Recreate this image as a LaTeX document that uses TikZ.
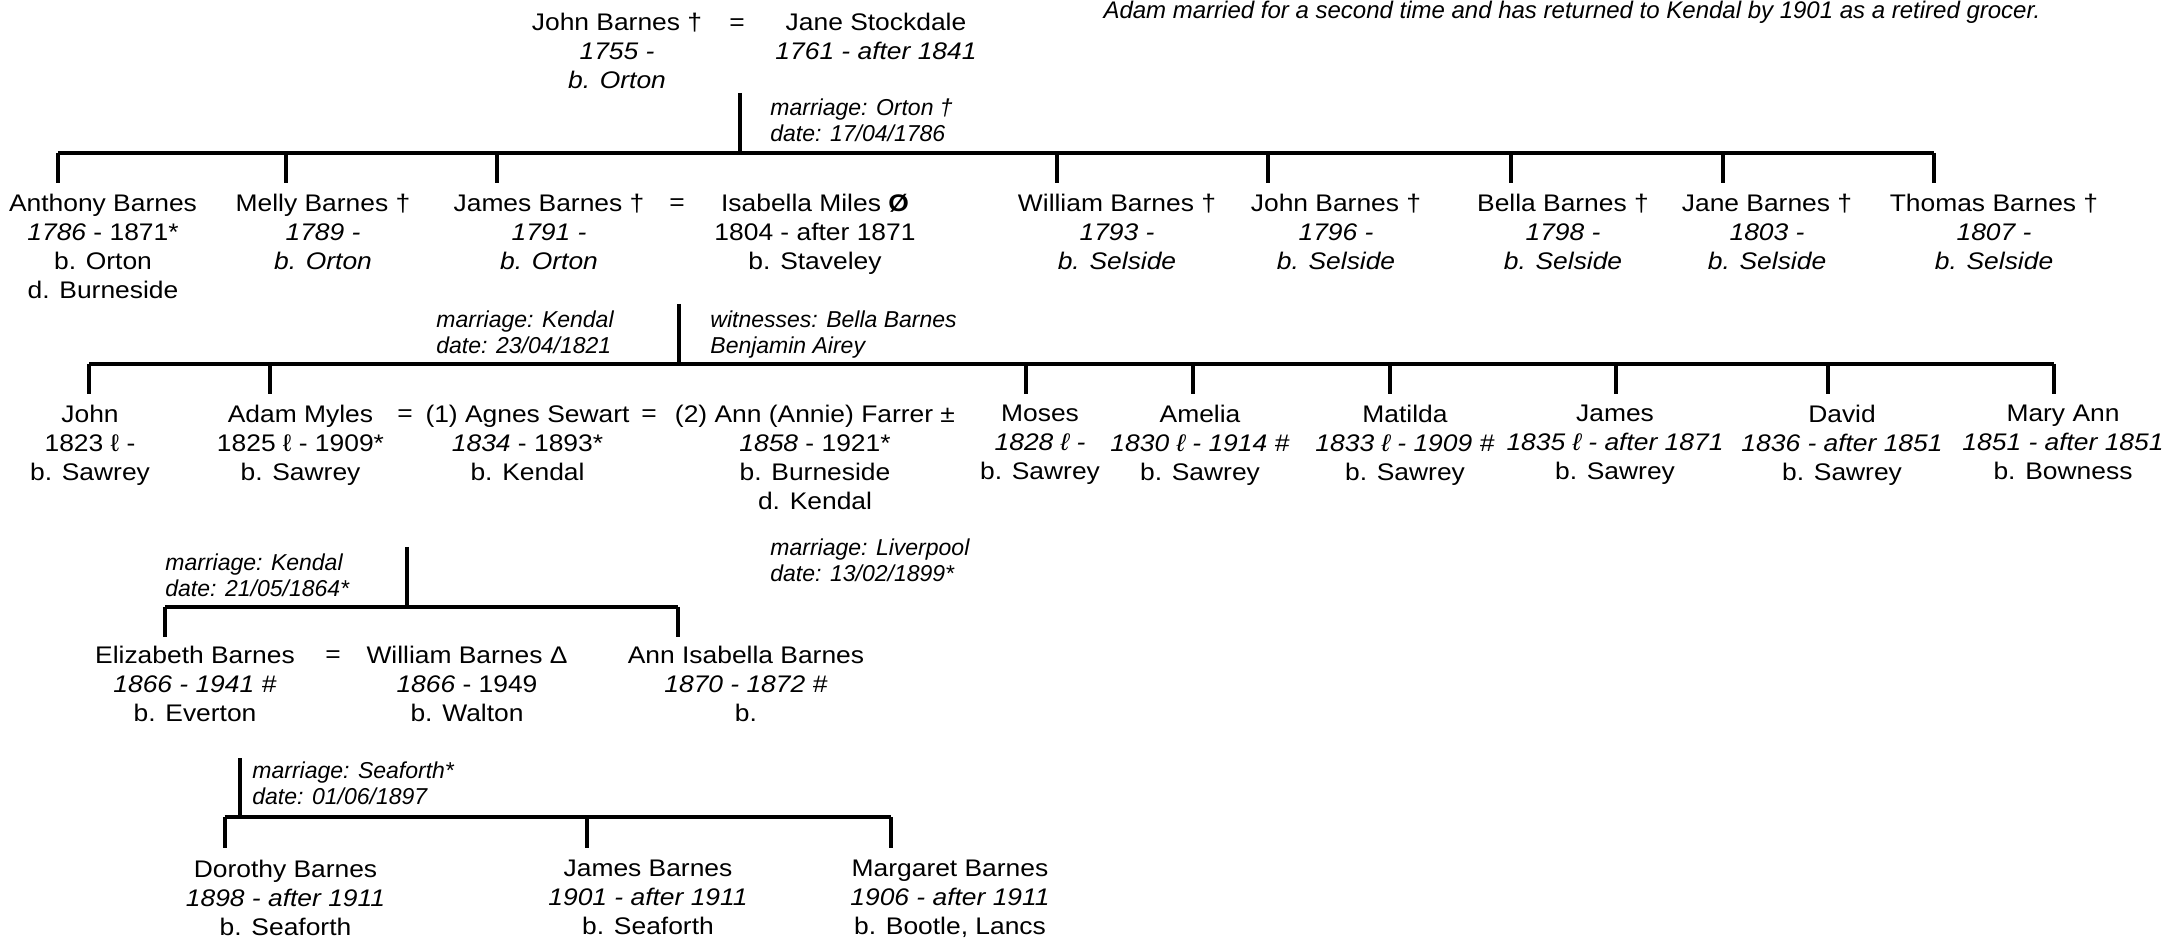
\documentclass[tikz,border=0pt]{standalone}
\usepackage{fontspec}
\setmainfont{Liberation Sans}[FakeStretch=1.1]
\newfontfamily\annfont{Liberation Sans}
\begin{document}
\begin{tikzpicture}[x=0.5pt,y=-0.5pt,
  person/.style={anchor=north, inner sep=0pt, align=center, font=\fontsize{12}{14.5}\selectfont},
  eqsign/.style={anchor=base, inner sep=0pt, font=\fontsize{12}{14.5}\selectfont},
  note/.style={anchor=north west, inner sep=0pt, align=left, font=\annfont\itshape\fontsize{11.5}{13}\selectfont},
  bar/.style={line width=2.2pt},
  drop/.style={line width=2pt}]
\useasboundingbox (0,0) rectangle (2174,940);

% top note
\node[anchor=north, inner sep=0pt, font=\annfont\itshape\fontsize{12}{14}\selectfont] (topnote) at (1572,1)
  {Adam married for a second time and has returned to Kendal by 1901 as a retired grocer.};

% generation 1
\node[person] (jb) at (617,13) {John Barnes †\\\textit{1755 -}\\\textit{b. Orton}};
\node[eqsign] (eq0) at (737,30.2) {=};
\node[person] (js) at (876,13) {Jane Stockdale\\\textit{1761 - after 1841}};
\node[note] (m0) at (770,98) {marriage: Orton †\\date: 17/04/1786};

% generation 2
\node[person] (anthony) at (103,193.5) {Anthony Barnes\\\textit{1786} - 1871*\\b. Orton\\d. Burneside};
\node[person] (melly) at (323,193.5) {Melly Barnes †\\\textit{1789 -}\\\textit{b. Orton}};
\node[person] (jamesB) at (549,193.5) {James Barnes †\\\textit{1791 -}\\\textit{b. Orton}};
\node[eqsign] (eq1) at (677,210.7) {=};
\node[person] (isabella) at (815,193.5) {Isabella Miles \textbf{Ø}\\1804 - after 1871\\b. Staveley};
\node[person] (williamB) at (1117,193.5) {William Barnes †\\\textit{1793 -}\\\textit{b. Selside}};
\node[person] (johnB) at (1336,193.5) {John Barnes †\\\textit{1796 -}\\\textit{b. Selside}};
\node[person] (bella) at (1563,193.5) {Bella Barnes †\\\textit{1798 -}\\\textit{b. Selside}};
\node[person] (jane) at (1767,193.5) {Jane Barnes †\\\textit{1803 -}\\\textit{b. Selside}};
\node[person] (thomas) at (1994,193.5) {Thomas Barnes †\\\textit{1807 -}\\\textit{b. Selside}};
\node[note] (m1) at (436,310) {marriage: Kendal\\date: 23/04/1821};
\node[note] (w1) at (710,310) {witnesses: Bella Barnes\\Benjamin Airey};

% generation 3
\node[person] (johnC) at (90,404.5) {John\\1823 ℓ -\\b. Sawrey};
\node[person] (adam) at (300.5,404.5) {Adam Myles\\1825 ℓ - 1909*\\b. Sawrey};
\node[eqsign] (eq2) at (405,421.7) {=};
\node[person] (agnes) at (527.5,404.5) {(1) Agnes Sewart\\\textit{1834} - 1893*\\b. Kendal};
\node[eqsign] (eq3) at (649,421.7) {=};
\node[person] (ann) at (815,404.5) {(2) Ann (Annie) Farrer ±\\\textit{1858} - 1921*\\b. Burneside\\d. Kendal};
\node[person] (moses) at (1040,404.5) {Moses\\\textit{1828 ℓ -}\\b. Sawrey};
\node[person] (amelia) at (1200,404.5) {Amelia\\\textit{1830 ℓ - 1914 \#}\\b. Sawrey};
\node[person] (matilda) at (1405,404.5) {Matilda\\\textit{1833 ℓ - 1909 \#}\\b. Sawrey};
\node[person] (jamesC) at (1615,404.5) {James\\\textit{1835 ℓ - after 1871}\\b. Sawrey};
\node[person] (david) at (1842,404.5) {David\\\textit{1836 - after 1851}\\b. Sawrey};
\node[person] (maryann) at (2063,404.5) {Mary Ann\\\textit{1851 - after 1851}\\b. Bowness};
\node[note] (m2) at (770,538) {marriage: Liverpool\\date: 13/02/1899*};
\node[note] (m3) at (165,553) {marriage: Kendal\\date: 21/05/1864*};

% generation 4
\node[person] (eliz) at (195,645.5) {Elizabeth Barnes\\\textit{1866 - 1941 \#}\\b. Everton};
\node[eqsign] (eq4) at (333,662.7) {=};
\node[person] (williamD) at (467,645.5) {William Barnes Δ\\\textit{1866} - 1949\\b. Walton};
\node[person] (annisa) at (746,645.5) {Ann Isabella Barnes\\\textit{1870 - 1872 \#}\\b.};
\node[note] (m4) at (252,761) {marriage: Seaforth*\\date: 01/06/1897};

% generation 5
\node[person] (dorothy) at (285.5,859.5) {Dorothy Barnes\\\textit{1898 - after 1911}\\b. Seaforth};
\node[person] (jamesE) at (648,859.5) {James Barnes\\\textit{1901 - after 1911}\\b. Seaforth};
\node[person] (margaret) at (950,859.5) {Margaret Barnes\\\textit{1906 - after 1911}\\b. Bootle, Lancs};

% ---------- connectors ----------
% family 1
\coordinate (f1top) at (740,93);
\coordinate (barB) at (0,153);
\coordinate (b1) at (58,183);
\coordinate (b2) at (285.5,183);
\coordinate (b3) at (497,183);
\coordinate (b4) at (1057,183);
\coordinate (b5) at (1268,183);
\coordinate (b6) at (1511,183);
\coordinate (b7) at (1722.5,183);
\coordinate (b8) at (1934,183);
\draw[drop] (f1top) -- (f1top |- barB);
\draw[bar] (b1 |- barB) -- (b8 |- barB);
\foreach \c in {b1,b2,b3,b4,b5,b6,b7,b8} \draw[drop] (\c |- barB) -- (\c);

% family 2
\coordinate (f2top) at (679,304);
\coordinate (barC) at (0,364);
\coordinate (c1) at (89,394);
\coordinate (c2) at (270,394);
\coordinate (c3) at (1026,394);
\coordinate (c4) at (1193,394);
\coordinate (c5) at (1389.5,394);
\coordinate (c6) at (1616,394);
\coordinate (c7) at (1828,394);
\coordinate (c8) at (2054,394);
\draw[drop] (f2top) -- (f2top |- barC);
\draw[bar] (c1 |- barC) -- (c8 |- barC);
\foreach \c in {c1,c2,c3,c4,c5,c6,c7,c8} \draw[drop] (\c |- barC) -- (\c);

% family 3
\coordinate (f3top) at (407,547);
\coordinate (barD) at (0,607);
\coordinate (d1) at (165,637);
\coordinate (d2) at (678,637);
\draw[drop] (f3top) -- (f3top |- barD);
\draw[bar] (d1 |- barD) -- (d2 |- barD);
\foreach \c in {d1,d2} \draw[drop] (\c |- barD) -- (\c);

% family 4
\coordinate (f4top) at (240,758);
\coordinate (barE) at (0,817);
\coordinate (e1) at (224.5,848);
\coordinate (e2) at (587,848);
\coordinate (e3) at (891,848);
\draw[drop] (f4top) -- (f4top |- barE);
\draw[bar] (e1 |- barE) -- (e3 |- barE);
\foreach \c in {e1,e2,e3} \draw[drop] (\c |- barE) -- (\c);
\end{tikzpicture}
\end{document}
